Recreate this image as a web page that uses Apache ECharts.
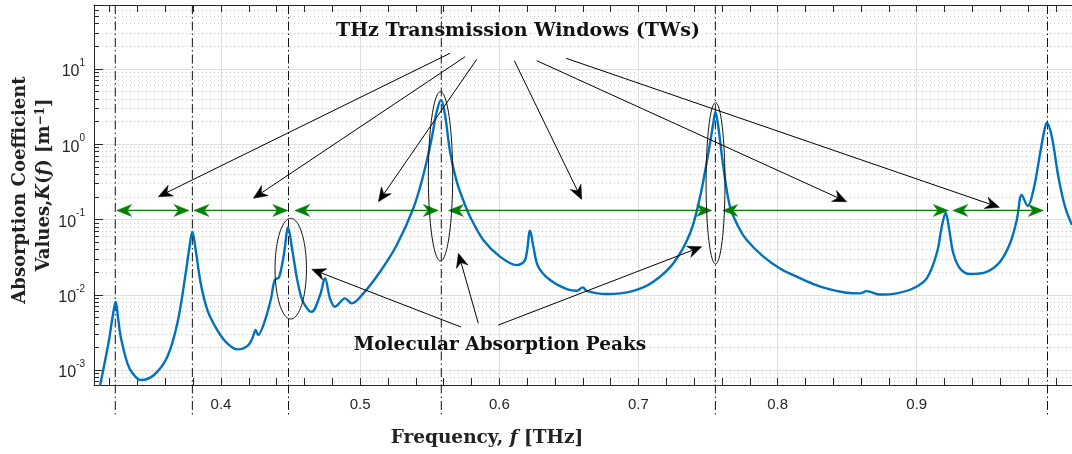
<!DOCTYPE html>
<html><head><meta charset="utf-8">
<script src="https://cdn.jsdelivr.net/npm/echarts@6/dist/echarts.min.js"></script>
<style>html,body{margin:0;padding:0;background:#fff}#c{width:1072px;height:454px}</style>
</head><body><div id="c"></div><script>
// ---------- data ----------
const freq = [0.3130,0.3195,0.3217,0.3243,0.3260,0.3279,0.3327,0.3368,0.3423,0.3518,
0.3614,0.3686,0.3746,0.3770,0.3794,0.3818,0.3854,0.3902,0.3973,0.4045,
0.4117,0.4189,0.4225,0.4249,0.4266,0.4309,0.4357,0.4386,0.4417,0.4453,
0.4482,0.4512,0.4548,0.4584,0.4632,0.4652,0.4712,0.4747,0.4783,0.4819,
0.4891,0.4939,0.5023,0.5143,0.5263,0.5382,0.5454,0.5514,0.5550,0.5581,
0.5610,0.5646,0.5694,0.5754,0.5790,0.5885,0.6005,0.6125,0.6185,0.6221,
0.6245,0.6280,0.6365,0.6485,0.6556,0.6600,0.6628,0.6772,0.6963,0.7107,
0.7251,0.7371,0.7443,0.7502,0.7538,0.7553,0.7574,0.7610,0.7658,0.7718,
0.7778,0.7898,0.8017,0.8137,0.8257,0.8377,0.8497,0.8592,0.8641,0.8736,
0.8856,0.8976,0.9072,0.9144,0.9180,0.9208,0.9234,0.9263,0.9311,0.9383,
0.9503,0.9599,0.9671,0.9719,0.9755,0.9798,0.9839,0.9887,0.9915,0.9935,
0.9971,1.0018,1.0066,1.0116];
const absorption = [6.1e-4,2.51e-3,4.62e-3,8.08e-3,4.91e-3,2.77e-3,1.23e-3,8.85e-4,7.36e-4,8.59e-4,
1.50e-3,4.18e-3,0.0193,0.0394,0.0689,0.0394,0.0142,6.27e-3,3.40e-3,2.26e-3,
1.88e-3,2.08e-3,2.64e-3,3.40e-3,2.92e-3,4.18e-3,8.51e-3,0.0157,0.0171,0.0356,
0.0787,0.0394,0.0157,8.51e-3,6.14e-3,5.96e-3,9.93e-3,0.01656,8.97e-3,6.93e-3,
8.97e-3,7.69e-3,0.01045,0.0202,0.0458,0.141,0.390,1.20,2.71,3.87,
2.45,0.796,0.318,0.156,0.109,0.0535,0.0321,0.0248,0.0290,0.0710,
0.0435,0.0236,0.0157,0.0119,0.0113,0.01256,0.0113,0.01023,0.0113,0.0149,
0.0262,0.0656,0.201,0.759,1.90,2.71,1.71,0.504,0.148,0.0802,
0.0535,0.0321,0.0224,0.0174,0.0139,0.0118,0.01064,0.01045,0.0112,0.01007,
0.01045,0.0122,0.01656,0.0356,0.0802,0.123,0.0724,0.0356,0.0224,0.0189,
0.0202,0.0275,0.0483,0.0985,0.212,0.151,0.247,0.759,1.46,1.93,
1.26,0.371,0.148,0.0845];

const peakLines = [0.3240, 0.3794, 0.4485, 0.5583, 0.7553, 0.9940];

const windowStart = [0.3250, 0.3805, 0.4530, 0.5634, 0.7606, 0.9259];
const windowEnd   = [0.3770, 0.4480, 0.5562, 0.7527, 0.9227, 0.9910];
const windowLevel = 0.132;

const twTail = [[0.5646,16.17],[0.5754,14.55],[0.5838,13.45],[0.6108,12.89],[0.6269,12.89],[0.6480,13.87]];
const twTip  = [[0.3549,0.201],[0.4232,0.191],[0.5131,0.172],[0.6592,0.185],[0.8497,0.172],[0.9594,0.145]];

const mapTail = [[0.5725,3.73e-3],[0.5849,4.18e-3],[0.5993,3.96e-3]];
const mapTip  = [[0.4652,0.0218],[0.5706,0.0356],[0.7455,0.0435]];

const ellipseLeft   = [0.4388, 0.5490, 0.7486];
const ellipseRight  = [0.4614, 0.5665, 0.7622];
const ellipseTop    = [0.1037, 4.99, 3.57];
const ellipseBottom = [4.76e-3, 0.0281, 0.0257];

const xTickLabels = [0.4, 0.5, 0.6, 0.7, 0.8, 0.9];
const xMinorTicks = [0.32,0.34,0.36,0.38,0.40,0.42,0.44,0.46,0.48,0.50,0.52,0.54,0.56,0.58,0.60,0.62,0.64,0.66,0.68,0.70,0.72,0.74,0.76,0.78,0.80,0.82,0.84,0.86,0.88,0.90,0.92,0.94,0.96,0.98,1.00];
const yTickLabels = [1e-3, 1e-2, 1e-1, 1, 10];
const yMinorTicks = [7e-4,8e-4,9e-4,2e-3,3e-3,4e-3,5e-3,6e-3,7e-3,8e-3,9e-3,0.02,0.03,0.04,0.05,0.06,0.07,0.08,0.09,0.2,0.3,0.4,0.5,0.6,0.7,0.8,0.9,2,3,4,5,6,7,8,9,20,30,40,50,60,70];

const X_MIN = 0.3087, X_MAX = 1.0116, Y_MIN = 6.33e-4, Y_MAX = 70.8;

// ---------- helpers ----------
const AX = '#262626';
function arrowHead(tip, tail, len, hw, notch) {
  const dx = tip[0] - tail[0], dy = tip[1] - tail[1];
  const L = Math.hypot(dx, dy) || 1;
  const ux = dx / L, uy = dy / L, px = -uy, py = ux;
  const bx = tip[0] - ux * len, by = tip[1] - uy * len;
  const nx = tip[0] - ux * len * (1 - notch), ny = tip[1] - uy * len * (1 - notch);
  return { points: [[tip[0], tip[1]], [bx + px * hw, by + py * hw], [nx, ny], [bx - px * hw, by - py * hw]], neck: [nx, ny] };
}
function arrowSeries(tails, tips) {
  return {
    type: 'custom', coordinateSystem: 'cartesian2d', xAxisIndex: 0, yAxisIndex: 0, clip: false, silent: true, z: 6,
    data: tips.map(p => [p[0], p[1]]),
    renderItem: (params, api) => {
      const i = params.dataIndex;
      const a = api.coord(tails[i]), b = api.coord(tips[i]);
      const h = arrowHead(b, a, 14, 6, 0.32);
      return { type: 'group', children: [
        { type: 'line', shape: { x1: a[0], y1: a[1], x2: h.neck[0], y2: h.neck[1] }, style: { stroke: '#000', lineWidth: 1 } },
        { type: 'polygon', shape: { points: h.points }, style: { fill: '#000', stroke: '#000', lineWidth: 0.5 } }
      ]};
    }
  };
}

const chart = echarts.init(document.getElementById('c'), null, { renderer: 'canvas' });
const serif = '"DejaVu Serif", "Liberation Serif", serif';

chart.setOption({
  animation: false,
  backgroundColor: '#fff',
  grid: { left: 94, right: 0, top: 5, bottom: 69, containLabel: false },
  xAxis: [
    { type: 'value', min: X_MIN, max: X_MAX, position: 'bottom',
      axisLine: { show: true, onZero: false, lineStyle: { color: AX, width: 1 } },
      axisTick: { show: false, customValues: xTickLabels },
      axisLabel: { customValues: xTickLabels, formatter: v => v.toFixed(1), color: AX, fontSize: 15, fontFamily: '"Liberation Sans", Arial, sans-serif', margin: 12 },
      splitLine: { show: true, lineStyle: { color: '#dfdfdf', width: 1 } } },
    { type: 'value', min: X_MIN, max: X_MAX, position: 'bottom',
      axisLine: { show: false, onZero: false },
      axisTick: { show: true, inside: true, length: 7, customValues: xMinorTicks, lineStyle: { color: AX } },
      axisLabel: { show: false }, splitLine: { show: false } },
    { type: 'value', min: X_MIN, max: X_MAX, position: 'top',
      axisLine: { show: true, onZero: false, lineStyle: { color: AX, width: 1 } },
      axisTick: { show: true, inside: true, length: 7, customValues: xMinorTicks, lineStyle: { color: AX } },
      axisLabel: { show: false }, splitLine: { show: false } }
  ],
  yAxis: [
    { type: 'log', logBase: 10, min: Y_MIN, max: Y_MAX, position: 'left',
      axisLine: { show: true, onZero: false, lineStyle: { color: AX, width: 1 } },
      axisTick: { show: true, inside: true, length: 9, customValues: yTickLabels, lineStyle: { color: AX } },
      axisLabel: { customValues: yTickLabels, margin: 9, color: AX,
        formatter: v => '{b|10}{s|' + Math.round(Math.log10(v)) + '}',
        rich: { b: { fontSize: 16, color: AX, fontFamily: '"Liberation Sans", Arial, sans-serif', lineHeight: 22, verticalAlign: 'bottom' },
                s: { fontSize: 10, color: AX, fontFamily: '"Liberation Sans", Arial, sans-serif', verticalAlign: 'top' } } },
      splitLine: { show: true, lineStyle: { color: '#dfdfdf', width: 1 } } },
    { type: 'log', logBase: 10, min: Y_MIN, max: Y_MAX, position: 'left',
      axisLine: { show: false, onZero: false },
      axisTick: { show: true, inside: true, length: 5, customValues: yMinorTicks, lineStyle: { color: AX } },
      axisLabel: { show: false },
      splitLine: { show: true, lineStyle: { color: '#c8c8c8', width: 1, type: [1, 3] } } }
  ],
  series: [
    { type: 'custom', coordinateSystem: 'cartesian2d', xAxisIndex: 0, yAxisIndex: 0, clip: false, silent: true, z: 2,
      data: peakLines.map(f => [f, Y_MAX]),
      renderItem: (params, api) => {
        const f = peakLines[params.dataIndex];
        const t = api.coord([f, Y_MAX]), b = api.coord([f, Y_MIN]);
        return { type: 'line', shape: { x1: t[0], y1: t[1], x2: b[0], y2: b[1] + 31 },
                 style: { stroke: '#111', lineWidth: 1, lineDash: [9, 3, 1.5, 3] } };
      } },
    { type: 'line', xAxisIndex: 0, yAxisIndex: 0, data: freq.map((f, i) => [f, absorption[i]]),
      showSymbol: false, symbol: 'none', smooth: 0.35, clip: true, z: 4, silent: true,
      lineStyle: { color: '#0072BD', width: 2.4 } },
    { type: 'custom', coordinateSystem: 'cartesian2d', xAxisIndex: 0, yAxisIndex: 0, clip: false, silent: true, z: 5,
      data: windowStart.map(s => [s, windowLevel]),
      renderItem: (params, api) => {
        const i = params.dataIndex;
        const a = api.coord([windowStart[i], windowLevel]), b = api.coord([windowEnd[i], windowLevel]);
        const h1 = arrowHead(a, b, 15, 6, 0.3), h2 = arrowHead(b, a, 15, 6, 0.3);
        return { type: 'group', children: [
          { type: 'line', shape: { x1: h1.neck[0], y1: h1.neck[1], x2: h2.neck[0], y2: h2.neck[1] }, style: { stroke: '#008000', lineWidth: 1.2 } },
          { type: 'polygon', shape: { points: h1.points }, style: { fill: '#008000', stroke: '#008000', lineWidth: 0.5 } },
          { type: 'polygon', shape: { points: h2.points }, style: { fill: '#008000', stroke: '#008000', lineWidth: 0.5 } }
        ]};
      } },
    { type: 'custom', coordinateSystem: 'cartesian2d', xAxisIndex: 0, yAxisIndex: 0, clip: false, silent: true, z: 6,
      data: ellipseLeft.map((l, i) => [l, ellipseTop[i]]),
      renderItem: (params, api) => {
        const i = params.dataIndex;
        const tl = api.coord([ellipseLeft[i], ellipseTop[i]]), br = api.coord([ellipseRight[i], ellipseBottom[i]]);
        const cx = (tl[0] + br[0]) / 2, cy = (tl[1] + br[1]) / 2, rx = (br[0] - tl[0]) / 2, ry = (br[1] - tl[1]) / 2;
        const pts = [];
        for (let k = 0; k < 96; k++) { const t = k / 96 * Math.PI * 2; pts.push([cx + rx * Math.cos(t), cy + ry * Math.sin(t)]); }
        return { type: 'polygon', shape: { points: pts }, style: { fill: 'none', stroke: '#111', lineWidth: 1 } };
      } },
    arrowSeries(twTail, twTip),
    arrowSeries(mapTail, mapTip)
  ],
  graphic: [
    { type: 'text', x: 518, y: 31, z: 10, silent: true,
      style: { text: 'THz Transmission Windows (TWs)', font: 'bold 19px ' + serif, fill: '#111', align: 'center', verticalAlign: 'middle', textAlign: 'center', textVerticalAlign: 'middle' } },
    { type: 'text', x: 500, y: 345, z: 10, silent: true,
      style: { text: 'Molecular Absorption Peaks', font: 'bold 18.5px ' + serif, fill: '#111', align: 'center', verticalAlign: 'middle', textAlign: 'center', textVerticalAlign: 'middle' } },
    { type: 'text', x: 487, y: 438, z: 10, silent: true,
      style: { text: 'Frequency, {i|f} [THz]', font: 'bold 18.5px ' + serif, fill: '#222', align: 'center', verticalAlign: 'middle', textAlign: 'center', textVerticalAlign: 'middle',
               rich: { i: { font: 'italic bold 18.5px ' + serif, fill: '#222' } } } },
    { type: 'text', x: 20, y: 190, rotation: Math.PI / 2, z: 10, silent: true,
      style: { text: 'Absorption Coefficient', font: 'bold 18px ' + serif, fill: '#222', align: 'center', verticalAlign: 'middle', textAlign: 'center', textVerticalAlign: 'middle' } },
    { type: 'text', x: 44, y: 185, rotation: Math.PI / 2, z: 10, silent: true,
      style: { text: 'Values,{i|K}({i|f}) [m{s|−1}]', font: 'bold 18px ' + serif, fill: '#222', align: 'center', verticalAlign: 'middle', textAlign: 'center', textVerticalAlign: 'middle',
               rich: { i: { font: 'italic bold 18px ' + serif, fill: '#222' }, s: { font: 'bold 12px ' + serif, fill: '#222', verticalAlign: 'top' } } } }
  ]
});
</script></body></html>
